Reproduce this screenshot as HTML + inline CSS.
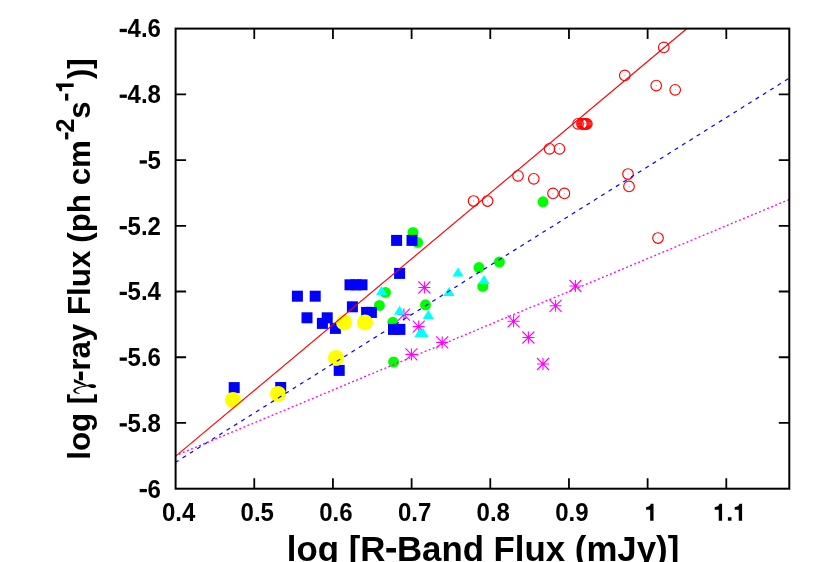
<!DOCTYPE html>
<html><head><meta charset="utf-8"><title>plot</title>
<style>
html,body{margin:0;padding:0;background:#fff;}
body{width:830px;height:562px;overflow:hidden;}
svg{display:block;will-change:transform;font-family:"Liberation Sans",sans-serif;font-weight:bold;}
</style></head><body>
<svg width="830" height="562" viewBox="0 0 830 562">
<rect x="0" y="0" width="830" height="562" fill="#ffffff"/>
<defs><clipPath id="cp"><rect x="175.6" y="28.6" width="613.7" height="460.1"/></clipPath></defs>
<g stroke="#000" stroke-width="1.8" fill="none">
<path d="M254.27 488.70v-10.5M254.27 28.60v10.5"/>
<path d="M332.94 488.70v-10.5M332.94 28.60v10.5"/>
<path d="M411.61 488.70v-10.5M411.61 28.60v10.5"/>
<path d="M490.29 488.70v-10.5M490.29 28.60v10.5"/>
<path d="M568.96 488.70v-10.5M568.96 28.60v10.5"/>
<path d="M647.63 488.70v-10.5M647.63 28.60v10.5"/>
<path d="M726.30 488.70v-10.5M726.30 28.60v10.5"/>
<path d="M175.60 94.33h10.5M789.30 94.33h-10.5"/>
<path d="M175.60 160.06h10.5M789.30 160.06h-10.5"/>
<path d="M175.60 225.79h10.5M789.30 225.79h-10.5"/>
<path d="M175.60 291.51h10.5M789.30 291.51h-10.5"/>
<path d="M175.60 357.24h10.5M789.30 357.24h-10.5"/>
<path d="M175.60 422.97h10.5M789.30 422.97h-10.5"/>
</g>
<g clip-path="url(#cp)">
<g fill="none" stroke="#ff0000" stroke-width="1.15">
<circle cx="473.60" cy="201.0" r="5.3"/><circle cx="487.60" cy="201.0" r="5.3"/><circle cx="518.00" cy="175.8" r="5.3"/><circle cx="533.80" cy="178.8" r="5.3"/><circle cx="549.50" cy="148.8" r="5.3"/><circle cx="559.50" cy="148.8" r="5.3"/><circle cx="553.00" cy="193.4" r="5.3"/><circle cx="564.40" cy="193.4" r="5.3"/><circle cx="628.00" cy="174.0" r="5.3"/><circle cx="629.00" cy="186.4" r="5.3"/><circle cx="658.00" cy="238.0" r="5.3"/><circle cx="663.80" cy="47.4" r="5.3"/><circle cx="624.80" cy="75.4" r="5.3"/><circle cx="656.20" cy="85.6" r="5.3"/><circle cx="675.20" cy="89.8" r="5.3"/><circle cx="578.05" cy="123.8" r="5.3"/><circle cx="581.95" cy="123.8" r="5.3"/><circle cx="582.90" cy="123.8" r="5.3"/><circle cx="583.90" cy="123.8" r="5.3"/><circle cx="584.90" cy="123.8" r="5.3"/><circle cx="585.90" cy="123.8" r="5.3"/><circle cx="586.85" cy="123.8" r="5.3"/>
</g>
<g fill="#ff0000" fill-opacity="0.6">
<circle cx="473.6" cy="201.0" r="0.5"/><circle cx="487.6" cy="201.0" r="0.5"/><circle cx="518.0" cy="175.8" r="0.5"/><circle cx="533.8" cy="178.8" r="0.5"/><circle cx="549.5" cy="148.8" r="0.5"/><circle cx="559.5" cy="148.8" r="0.5"/><circle cx="553.0" cy="193.4" r="0.5"/><circle cx="564.4" cy="193.4" r="0.5"/><circle cx="628.0" cy="174.0" r="0.5"/><circle cx="629.0" cy="186.4" r="0.5"/><circle cx="658.0" cy="238.0" r="0.5"/><circle cx="663.8" cy="47.4" r="0.5"/><circle cx="624.8" cy="75.4" r="0.5"/><circle cx="656.2" cy="85.6" r="0.5"/><circle cx="675.2" cy="89.8" r="0.5"/><circle cx="578.0" cy="123.8" r="0.5"/><circle cx="582.0" cy="123.8" r="0.5"/><circle cx="582.9" cy="123.8" r="0.5"/><circle cx="583.9" cy="123.8" r="0.5"/><circle cx="584.9" cy="123.8" r="0.5"/><circle cx="585.9" cy="123.8" r="0.5"/><circle cx="586.9" cy="123.8" r="0.5"/>
</g>
<g fill="#00ff00">
<circle cx="413.0" cy="232.4" r="5.5"/><circle cx="417.6" cy="242.4" r="5.5"/><circle cx="385.4" cy="292.4" r="5.5"/><circle cx="379.4" cy="305.4" r="5.5"/><circle cx="425.5" cy="304.8" r="5.5"/><circle cx="392.8" cy="322.3" r="5.5"/><circle cx="393.6" cy="362.0" r="5.5"/><circle cx="479.0" cy="267.6" r="5.5"/><circle cx="499.4" cy="262.0" r="5.5"/><circle cx="482.8" cy="286.4" r="5.5"/><circle cx="543.0" cy="201.8" r="5.5"/>
</g>
<g fill="#0000ff">
<rect x="391.1" y="234.9" width="11" height="11"/><rect x="406.5" y="234.9" width="11" height="11"/><rect x="394.1" y="267.9" width="11" height="11"/><rect x="344.5" y="279.3" width="11" height="11"/><rect x="350.5" y="279.3" width="11" height="11"/><rect x="356.5" y="279.3" width="11" height="11"/><rect x="291.9" y="290.7" width="11" height="11"/><rect x="309.7" y="290.7" width="11" height="11"/><rect x="346.9" y="301.3" width="11" height="11"/><rect x="361.1" y="306.9" width="11" height="11"/><rect x="365.9" y="306.9" width="11" height="11"/><rect x="301.5" y="312.3" width="11" height="11"/><rect x="321.7" y="312.3" width="11" height="11"/><rect x="316.9" y="317.9" width="11" height="11"/><rect x="329.9" y="322.9" width="11" height="11"/><rect x="388.0" y="323.9" width="11" height="11"/><rect x="394.4" y="323.9" width="11" height="11"/><rect x="333.7" y="364.9" width="11" height="11"/><rect x="228.7" y="382.1" width="11" height="11"/><rect x="275.2" y="382.0" width="11" height="11"/>
</g>
<g fill="none" stroke="#ff00ff" stroke-width="1.1">
<path d="M418.4 287.5h12M424.4 281.5v12M418.4 281.5l12 12M418.4 293.5l12 -12"/><path d="M397.9 314.6h12M403.9 308.6v12M397.9 308.6l12 12M397.9 320.6l12 -12"/><path d="M412.7 326.6h12M418.7 320.6v12M412.7 320.6l12 12M412.7 332.6l12 -12"/><path d="M405.4 354.4h12M411.4 348.4v12M405.4 348.4l12 12M405.4 360.4l12 -12"/><path d="M436.2 342.4h12M442.2 336.4v12M436.2 336.4l12 12M436.2 348.4l12 -12"/><path d="M507.6 321.3h12M513.6 315.3v12M507.6 315.3l12 12M507.6 327.3l12 -12"/><path d="M522.4 337.5h12M528.4 331.5v12M522.4 331.5l12 12M522.4 343.5l12 -12"/><path d="M549.6 305.8h12M555.6 299.8v12M549.6 299.8l12 12M549.6 311.8l12 -12"/><path d="M569.4 286.0h12M575.4 280.0v12M569.4 280.0l12 12M569.4 292.0l12 -12"/><path d="M537.0 364.0h12M543.0 358.0v12M537.0 358.0l12 12M537.0 370.0l12 -12"/>
</g>
<g fill="#00ffff">
<path d="M381.6 285.9l5.6 9h-11.2z"/><path d="M399.6 305.8l5.6 9h-11.2z"/><path d="M428.3 310.0l5.6 9h-11.2z"/><path d="M419.9 327.9l5.6 9h-11.2z"/><path d="M423.0 327.9l5.6 9h-11.2z"/><path d="M458.0 267.5l5.6 9h-11.2z"/><path d="M449.0 287.1l5.6 9h-11.2z"/><path d="M484.0 275.1l5.6 9h-11.2z"/>
</g>
<g fill="#ffff00">
<circle cx="233.0" cy="400.0" r="8"/><circle cx="278.0" cy="394.0" r="8"/><circle cx="336.0" cy="358.0" r="8"/><circle cx="344.0" cy="322.4" r="8"/><circle cx="365.0" cy="322.4" r="8"/>
</g>
<path d="M176 455.9L686.4 29" stroke="#ff0000" stroke-width="1.15" fill="none"/>
<path d="M176 462L789 78.3" stroke="#0000ff" stroke-width="1.2" stroke-dasharray="4 4.667" stroke-dashoffset="1" fill="none"/>
<path d="M176 455.5L789 199.6" stroke="#ff00ff" stroke-width="1.35" stroke-dasharray="1.9 2.466" stroke-dashoffset="1.2" fill="none"/>
</g>
<rect x="175.6" y="28.6" width="613.7" height="460.1" fill="none" stroke="#000" stroke-width="2"/>
<g font-size="24" fill="#000">
<text transform="translate(178.60 520.70) scale(1 1.060)" text-anchor="middle">0.4</text>
<text transform="translate(257.27 520.70) scale(1 1.060)" text-anchor="middle">0.5</text>
<text transform="translate(335.94 520.70) scale(1 1.060)" text-anchor="middle">0.6</text>
<text transform="translate(414.61 520.70) scale(1 1.060)" text-anchor="middle">0.7</text>
<text transform="translate(493.29 520.70) scale(1 1.060)" text-anchor="middle">0.8</text>
<text transform="translate(571.96 520.70) scale(1 1.060)" text-anchor="middle">0.9</text>
<path transform="translate(644.45 520.70) scale(0.02400 -0.02384)" d="M69 464L69 568C165 572 245 622 268 710L378 710L378 0L238 0L238 464Z"/>
<path transform="translate(713.02 520.70) scale(0.02400 -0.02384)" d="M69 464L69 568C165 572 245 622 268 710L378 710L378 0L238 0L238 464Z"/><rect x="727.90" y="517.22" width="3.60" height="3.48"/><path transform="translate(733.03 520.70) scale(0.02400 -0.02384)" d="M69 464L69 568C165 572 245 622 268 710L378 710L378 0L238 0L238 464Z"/>
<text transform="translate(160.90 37.40) scale(1 1.060)" text-anchor="end">4.6</text><rect x="119.66" y="28.83" width="7.22" height="3.31"/>
<text transform="translate(160.90 103.13) scale(1 1.060)" text-anchor="end">4.8</text><rect x="119.66" y="94.56" width="7.22" height="3.31"/>
<text transform="translate(160.90 168.86) scale(1 1.060)" text-anchor="end">5</text><rect x="139.68" y="160.28" width="7.22" height="3.31"/>
<text transform="translate(160.90 234.59) scale(1 1.060)" text-anchor="end">5.2</text><rect x="119.66" y="226.01" width="7.22" height="3.31"/>
<text transform="translate(160.90 300.31) scale(1 1.060)" text-anchor="end">5.4</text><rect x="119.66" y="291.74" width="7.22" height="3.31"/>
<text transform="translate(160.90 366.04) scale(1 1.060)" text-anchor="end">5.6</text><rect x="119.66" y="357.47" width="7.22" height="3.31"/>
<text transform="translate(160.90 431.77) scale(1 1.060)" text-anchor="end">5.8</text><rect x="119.66" y="423.20" width="7.22" height="3.31"/>
<text transform="translate(160.90 497.50) scale(1 1.060)" text-anchor="end">6</text><rect x="139.68" y="488.93" width="7.22" height="3.31"/>
</g>
<g fill="#000" font-size="34.8"><text x="286.80" y="560.70">log [R</text><rect x="386.31" y="548.00" width="9.71" height="4.52"/><text x="396.96" y="560.70">Band Flux (mJy)]</text></g>
<g transform="translate(90.3 459.8) rotate(-90)" fill="#000" font-size="31.3">
<text x="0" y="0">log [</text><rect x="79.50" y="-11.42" width="8.73" height="4.07"/><text x="89.08" y="0">ray Flux </text><text x="217.11" y="0">(ph cm</text><g font-size="25.0"><rect x="320.38" y="-25.23" width="6.98" height="3.25"/><text x="327.20" y="-16.60">2</text></g><text x="341.11" y="0">s</text><g font-size="25.0"><rect x="359.19" y="-25.23" width="6.98" height="3.25"/><path transform="translate(366.84 -16.60) scale(0.02500 -0.02500)" d="M69 464L69 568C165 572 245 622 268 710L378 710L378 0L238 0L238 464Z"/></g><text x="380.74" y="0">)]</text>
</g>
<g transform="translate(65 365) scale(0.07117)" fill="#000"><path d="M123 192L322 289L272 293L128 241Z"/><path d="M203 406C150 400 113 385 117 354C122 322 205 298 312 283L314 297C222 311 150 334 148 358C147 378 176 391 207 397Z"/><path d="M298 290C340 268 402 262 430 284C447 300 432 323 400 323C364 323 334 306 298 290Z"/></g>
</svg>
</body></html>
